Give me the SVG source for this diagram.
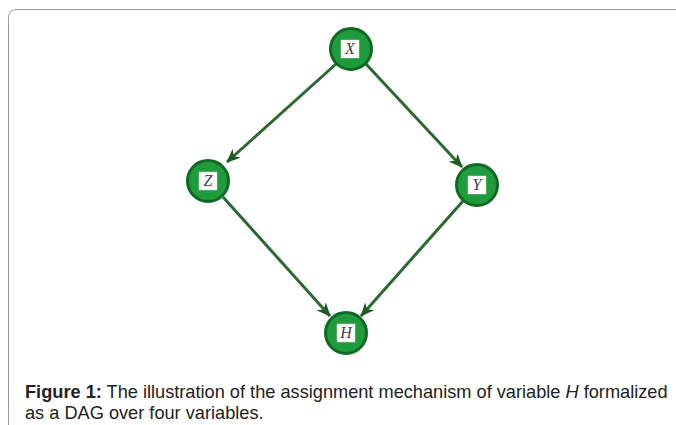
<svg xmlns="http://www.w3.org/2000/svg" width="676" height="425" viewBox="0 0 676 425">
<style>
.node circle{fill:#1f9a3c;stroke:#0e6a22;stroke-width:3}
.node rect{fill:#ffffff;stroke:#cfe8d2;stroke-width:0.5}
.node text{font-family:"Liberation Serif",serif;font-style:italic;font-size:16px;fill:#444;text-anchor:middle}
.edge{stroke:#2b6a2e;stroke-width:3;fill:none;marker-end:url(#ah)}
.cap{font-family:"Liberation Sans",Arial,sans-serif;font-size:18.2px;fill:#222}
</style>
<defs>
<marker id="ah" markerWidth="15" markerHeight="13" refX="13" refY="6" orient="auto" markerUnits="userSpaceOnUse" viewBox="0 0 15 12">
<path d="M0,0 L14,6 L0,12 L4,6 Z" fill="#1f5a22"/>
</marker>
</defs>
<rect width="676" height="425" fill="#ffffff"/>
<path d="M8.5,425 V18 Q8.5,9.5 17,9.5 H676" fill="none" stroke="#9a9a9a" stroke-width="1"/>
<g id="connectors">
<line class="edge" x1="336" y1="64" x2="227" y2="162"/>
<line class="edge" x1="366" y1="64" x2="462" y2="167"/>
<line class="edge" x1="223" y1="197" x2="330" y2="316"/>
<line class="edge" x1="463" y1="201" x2="361" y2="316"/>
</g>
<g id="node-X" class="node"><circle cx="351" cy="49" r="20.5"/><rect x="341" y="40" width="18" height="18"/><text x="350" y="54">X</text></g>
<g id="node-Z" class="node"><circle cx="208" cy="181" r="20.5"/><rect x="199" y="172" width="18" height="18"/><text x="208" y="186">Z</text></g>
<g id="node-Y" class="node"><circle cx="477" cy="185" r="20.5"/><rect x="468" y="176" width="18" height="18"/><text x="477" y="190">Y</text></g>
<g id="node-H" class="node"><circle cx="346" cy="333" r="20.5"/><rect x="337" y="324" width="18" height="18"/><text x="346" y="338">H</text></g>
<text class="cap" x="25" y="398"><tspan font-weight="bold">Figure 1:</tspan> The illustration of the assignment mechanism of variable <tspan font-style="italic">H</tspan> formalized</text>
<text class="cap" x="25" y="419">as a DAG over four variables.</text>
</svg>
